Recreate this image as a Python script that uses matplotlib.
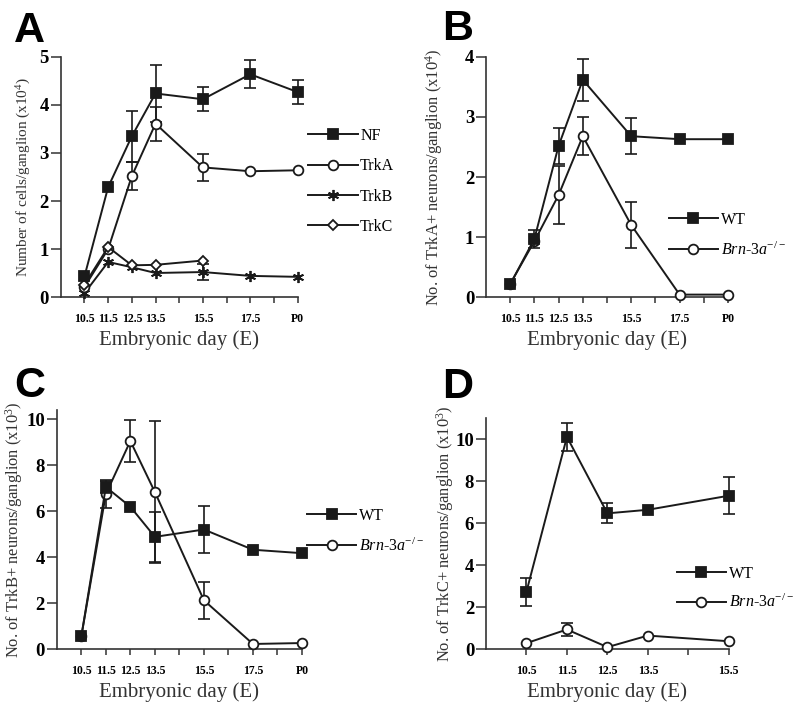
import numpy as np
import matplotlib.pyplot as plt

plt.rcParams['mathtext.fontset'] = 'custom'
plt.rcParams['mathtext.rm'] = 'Liberation Serif'
plt.rcParams['mathtext.it'] = 'Liberation Serif:italic'

# embryonic days (P0 drawn at 19.5)
days = [10.5, 11.5, 12.5, 13.5, 15.5, 17.5, 19.5]
day_labels = ['10.5', '11.5', '12.5', '13.5', '15.5', '17.5', 'P0']
days_d = [10.5, 11.5, 12.5, 13.5, 15.5]
day_labels_d = ['10.5', '11.5', '12.5', '13.5', '15.5']

# panel A (x10^4 cells/ganglion)
nf = [0.43, 2.29, 3.35, 4.24, 4.12, 4.64, 4.27]
nf_err = [0, 0, 0.53, 0.6, 0.25, 0.29, 0.25]
trka = [0.21, 1.0, 2.52, 3.61, 2.70, 2.62, 2.64]
trka_err = [0, 0, 0.3, 0.35, 0.28, 0, 0]
trkb = [0.08, 0.73, 0.62, 0.5, 0.52, 0.44, 0.42]
trkb_err = [0, 0, 0, 0, 0.17, 0, 0]
trkc = [0.26, 1.04, 0.66, 0.67, 0.76]

# panel B (x10^4 TrkA+ neurons)
b_wt = [0.21, 0.97, 2.52, 3.62, 2.68, 2.63, 2.63]
b_wt_err = [0, 0.15, 0.3, 0.35, 0.3, 0, 0]
b_ko = [0.22, 0.93, 1.7, 2.68, 1.2, 0.04, 0.04]
b_ko_err = [0, 0, 0.48, 0.32, 0.39, 0, 0]

# panel C (x10^3 TrkB+ neurons)
c_wt = [0.55, 7.05, 6.19, 4.88, 5.2, 4.32, 4.17]
c_wt_err = [0, 0.25, 0, 1.1, 1.02, 0, 0]
c_ko = [0.55, 6.74, 9.05, 6.83, 2.12, 0.22, 0.26]
c_ko_err = [0, 0.6, 0.93, 3.08, 0.8, 0, 0]

# panel D (x10^3 TrkC+ neurons)
d_wt = [2.73, 10.1, 6.46, 6.63, 7.3]
d_wt_err = [0.67, 0.65, 0.47, 0, 0.87]
d_ko = [0.28, 0.93, 0.09, 0.64, 0.37]
d_ko_err = [0, 0.33, 0, 0, 0]

INK = '#1a1a1a'
AX = '#333333'
serif = 'Liberation Serif'
KO = r'$\mathit{Brn}$-$\mathit{3a}^{-/-}$'


def series(ax, x, y, err, marker, face, ms, label, z):
    x = np.array(x)
    y = np.array(y)
    if err is not None:
        err = np.array(err)
        m = err > 0
        ax.errorbar(x[m], y[m], yerr=err[m], fmt='none', ecolor=INK,
                    elinewidth=1.2, capsize=4, capthick=1.2, zorder=z - 1,
                    clip_on=False)
    ax.plot(x, y, color=INK, lw=1.4, marker=marker, ms=ms, mfc=face,
            mec=INK, mew=1.3, label=label, zorder=z, clip_on=False)


def style(ax, xmax, ylim, yticks, ticks, labels, ylabel, ysize, ylab_x):
    ax.set_xlim(9.5, xmax)
    ax.set_ylim(*ylim)
    for s in ['top', 'right']:
        ax.spines[s].set_visible(False)
    for s in ['left', 'bottom']:
        ax.spines[s].set_color(AX)
        ax.spines[s].set_linewidth(1.2)
    ax.set_xticks(np.arange(10.5, xmax + 0.01, 1.0), minor=True)
    ax.set_xticks(ticks)
    ax.set_xticklabels(labels, fontfamily=serif, fontweight='bold', fontsize=8.5)
    ax.set_yticks(yticks)
    ax.set_yticklabels([str(t) for t in yticks], fontfamily=serif,
                       fontweight='bold', fontsize=13.5)
    ax.tick_params(axis='x', which='both', direction='out', length=4.3, width=1.1,
                   color=AX, pad=7)
    ax.tick_params(axis='y', direction='out', length=7, width=1.1, color=AX, pad=1.5)
    ax.set_xlabel('Embryonic day (E)', fontfamily=serif, fontsize=15, color=AX)
    ax.set_ylabel(ylabel, fontfamily=serif, fontsize=ysize, color=AX)
    ax.yaxis.set_label_coords(ylab_x, 0.5)


def legend(ax, handles, labels, x, y, spacing):
    ax.legend(handles, labels, loc='upper left', bbox_to_anchor=(x, y),
              frameon=False, prop={'family': serif, 'size': 11.5},
              handlelength=3.1, labelspacing=spacing, handletextpad=0.15,
              borderaxespad=0, borderpad=0)


fig = plt.figure(figsize=(8, 7.08), dpi=100)

# A
axA = fig.add_axes([0.076, 0.5805, 0.296, 0.339])
series(axA, days, nf, nf_err, 's', INK, 7, 'NF', 5)
series(axA, days, trka, trka_err, 'o', 'white', 7, 'TrkA', 4)
series(axA, days, trkb, trkb_err, (6, 2, 0), INK, 8, 'TrkB', 3)
series(axA, days[:5], trkc, None, 'D', 'white', 5, 'TrkC', 4)
style(axA, 19.5, (0, 5), [0, 1, 2, 3, 4, 5], days, day_labels,
      'Number of cells/ganglion (x10$^4$)', 11, -0.118)
h, l = axA.get_legend_handles_labels()
legend(axA, h, l, 1.045, 0.705, 0.9)

# B
axB = fig.add_axes([0.6075, 0.5805, 0.3025, 0.339])
series(axB, days, b_ko, b_ko_err, 'o', 'white', 7, KO, 4)
series(axB, days, b_wt, b_wt_err, 's', INK, 7, 'WT', 5)
style(axB, 19.5, (0, 4), [0, 1, 2, 3, 4], days, day_labels,
      'No. of TrkA+ neurons/ganglion (x10$^4$)', 11.9, -0.169)
h, l = axB.get_legend_handles_labels()
legend(axB, h[::-1], l[::-1], 0.755, 0.355, 0.85)

# C
axC = fig.add_axes([0.071, 0.0833, 0.3065, 0.3376])
series(axC, days, c_ko, c_ko_err, 'o', 'white', 7, KO, 4)
series(axC, days, c_wt, c_wt_err, 's', INK, 7, 'WT', 5)
style(axC, 19.5, (0, 10.4), [0, 2, 4, 6, 8, 10], days, day_labels,
      'No. of TrkB+ neurons/ganglion (x10$^3$)', 11.9, -0.13)
h, l = axC.get_legend_handles_labels()
legend(axC, h[::-1], l[::-1], 1.02, 0.59, 0.85)

# D
axD = fig.add_axes([0.6075, 0.0833, 0.3035, 0.3263])
series(axD, days_d, d_wt, d_wt_err, 's', INK, 7, 'WT', 5)
series(axD, days_d, d_ko, d_ko_err, 'o', 'white', 7, KO, 4)
style(axD, 15.5, (0, 11), [0, 2, 4, 6, 8, 10], days_d, day_labels_d,
      'No. of TrkC+ neurons/ganglion (x10$^3$)', 11.9, -0.125)
h, l = axD.get_legend_handles_labels()
legend(axD, h, l, 0.785, 0.36, 0.75)

for lab, x, y in [('A', 0.018, 0.9407), ('B', 0.553, 0.9435),
                  ('C', 0.018, 0.4393), ('D', 0.553, 0.4379)]:
    fig.text(x, y, lab, fontfamily='Liberation Sans', fontweight='bold',
             fontsize=31, va='baseline', ha='left')

fig.savefig('out.png', dpi=100)
